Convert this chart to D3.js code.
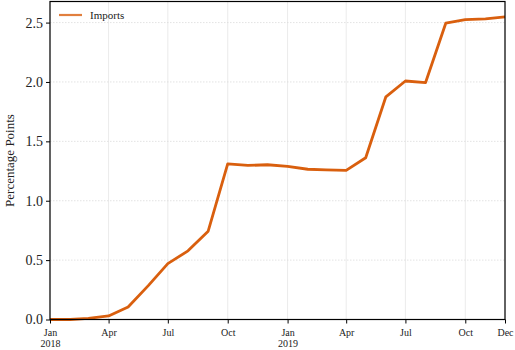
<!DOCTYPE html>
<html>
<head>
<meta charset="utf-8">
<script src="https://cdn.jsdelivr.net/npm/d3@7"></script>
<style>
  html, body { margin: 0; padding: 0; background: #fff; }
  svg { display: block; font-family: "Liberation Serif", "DejaVu Serif", serif; }
</style>
</head>
<body>
<svg id="chart" width="515" height="350"></svg>
<script>
// Monthly observations, Jan 2018 – Dec 2019
const months = [
  "2018-01", "2018-02", "2018-03", "2018-04", "2018-05", "2018-06",
  "2018-07", "2018-08", "2018-09", "2018-10", "2018-11", "2018-12",
  "2019-01", "2019-02", "2019-03", "2019-04", "2019-05", "2019-06",
  "2019-07", "2019-08", "2019-09", "2019-10", "2019-11", "2019-12"
];
const imports = [
  0.00, 0.00, 0.01, 0.03, 0.105, 0.285,
  0.47, 0.578, 0.744, 1.31, 1.297, 1.303,
  1.29, 1.265, 1.26, 1.255, 1.362, 1.875,
  2.008, 1.995, 2.495, 2.525, 2.532, 2.548
];
const seriesName = "Imports";
const yTicks = [0.0, 0.5, 1.0, 1.5, 2.0, 2.5];
const xTickDates = ["2018-01", "2018-04", "2018-07", "2018-10", "2019-01", "2019-04", "2019-07", "2019-10", "2019-12"];
const xTickLabels = ["Jan", "Apr", "Jul", "Oct", "Jan", "Apr", "Jul", "Oct", "Dec"];
const xTickYears = ["2018", "", "", "", "2019", "", "", "", ""];
const yLabel = "Percentage Points";

const parse = d3.timeParse("%Y-%m");
const data = months.map((m, i) => ({ date: parse(m), value: imports[i] }));

const svg = d3.select("#chart");
const margin = { left: 50, right: 10, top: 1.5, bottom: 30.5 };
const W = 515, H = 350;

const x = d3.scaleTime()
  .domain([parse("2018-01"), parse("2019-12")])
  .range([margin.left, W - margin.right]);
const y = d3.scaleLinear()
  .domain([0, 2.6775])
  .range([H - margin.bottom, margin.top]);

const lineColor = "#d95f0e";
const textFont = "Liberation Serif, DejaVu Serif, serif";

// Grid
const grid = svg.append("g");
grid.selectAll("line.vx")
  .data(xTickDates.map(parse))
  .join("line")
  .attr("x1", d => x(d)).attr("x2", d => x(d))
  .attr("y1", y.range()[0]).attr("y2", y.range()[1])
  .attr("stroke", "#e6e6e6").attr("stroke-width", 0.8);
grid.selectAll("line.hy")
  .data(yTicks)
  .join("line")
  .attr("x1", x.range()[0]).attr("x2", x.range()[1])
  .attr("y1", d => y(d)).attr("y2", d => y(d))
  .attr("stroke", "#dcdcdc").attr("stroke-width", 0.8)
  .attr("stroke-dasharray", "1.5,1.5");

// Series line
svg.append("path")
  .datum(data)
  .attr("fill", "none")
  .attr("stroke", lineColor)
  .attr("stroke-width", 2.8)
  .attr("stroke-linejoin", "round")
  .attr("d", d3.line().x(d => x(d.date)).y(d => y(d.value)));

// Frame
svg.append("rect")
  .attr("x", x.range()[0]).attr("y", y.range()[1])
  .attr("width", x.range()[1] - x.range()[0])
  .attr("height", y.range()[0] - y.range()[1])
  .attr("fill", "none").attr("stroke", "#000").attr("stroke-width", 1.2);

// Y axis
const yAxis = svg.append("g")
  .attr("transform", `translate(${x.range()[0]},0)`)
  .call(d3.axisLeft(y).tickValues(yTicks).tickFormat(d3.format(".1f")).tickSize(4).tickPadding(3));
yAxis.select(".domain").remove();
yAxis.selectAll(".tick line").attr("stroke", "#000").attr("stroke-width", 1);
yAxis.selectAll(".tick text")
  .attr("font-family", textFont)
  .attr("font-size", 14).attr("fill", "#222");

// X axis: month labels with the year on a second line under January
const xAxis = svg.append("g")
  .attr("transform", `translate(0,${y.range()[0]})`)
  .call(d3.axisBottom(x).tickValues(xTickDates.map(parse)).tickFormat((d, i) => xTickLabels[i]).tickSize(4).tickPadding(5));
xAxis.select(".domain").remove();
xAxis.selectAll(".tick line").attr("stroke", "#000").attr("stroke-width", 1);
xAxis.selectAll(".tick text")
  .attr("font-family", textFont)
  .attr("font-size", 10).attr("fill", "#222");
xAxis.selectAll(".tick")
  .append("text")
  .attr("y", 20).attr("dy", "0.71em")
  .attr("text-anchor", "middle")
  .attr("font-family", textFont)
  .attr("font-size", 10).attr("fill", "#222")
  .text((d, i) => xTickYears[i]);

// Y label
svg.append("text")
  .attr("transform", `translate(14,${(y.range()[0] + y.range()[1]) / 2}) rotate(-90)`)
  .attr("text-anchor", "middle")
  .attr("font-size", 13).attr("fill", "#222")
  .text(yLabel);

// Legend
const legend = svg.append("g").attr("transform", `translate(${x.range()[0] + 9},15)`);
legend.append("line")
  .attr("x1", 0).attr("x2", 23).attr("y1", 0).attr("y2", 0)
  .attr("stroke", lineColor).attr("stroke-opacity", 0.8).attr("stroke-width", 2.2);
legend.append("text")
  .attr("x", 31).attr("y", 0).attr("dy", "0.35em")
  .attr("font-size", 11).attr("fill", "#222")
  .text(seriesName);
</script>
</body>
</html>
